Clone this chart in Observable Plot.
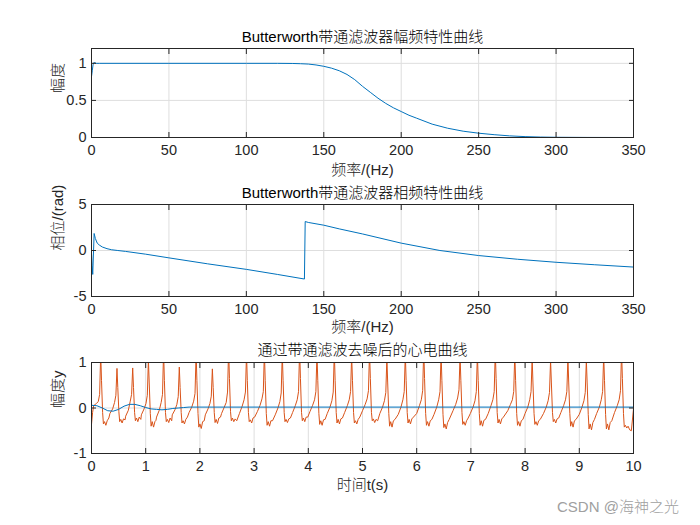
<!DOCTYPE html>
<html><head><meta charset="utf-8">
<script src="https://cdn.jsdelivr.net/npm/d3@7"></script>
<script src="https://cdn.jsdelivr.net/npm/@observablehq/plot@0.6"></script>
<style>
body{margin:0;background:#fff;}
#fig{position:relative;width:700px;height:525px;background:#fff;overflow:hidden;font-family:"Liberation Sans","Noto Sans CJK SC",sans-serif;}
#fig svg{position:absolute;left:0;}
#wm{position:absolute;left:557px;top:495px;font-size:15px;font-weight:300;color:#a0a0a0;font-family:"Liberation Sans","Noto Sans CJK SC",sans-serif;}
</style></head><body><div id="fig"></div>
<script>
// ---- Panel 1: magnitude response ----
const magFreq = [0,0.5,1,1.5,2,3,5,10,50,100,120,130,135,140,145,150,155,160,165,170,175,180,185,190,195,200,205,210,220,230,240,250,260,270,280,290,300,320,350];
const magVal  = [0.82,0.9,0.98,1.01,1.01,1.0,1.0,1.0,1.0,1.0,1.0,0.998,0.995,0.99,0.978,0.96,0.935,0.9,0.85,0.78,0.69,0.61,0.53,0.46,0.4,0.35,0.3,0.26,0.18,0.125,0.085,0.058,0.038,0.022,0.012,0.006,0.003,0.001,0];
// ---- Panel 2: phase response ----
const phaseFreq = [0,0.4,0.8,1.7,2.5,3.7,5,7,10,13,17,22,35,50,75,100,120,137.5,138,140,150,160,175,200,225,250,275,300,325,350];
const phaseVal  = [-0.3,-1.6,-2.6,1.85,1.3,0.8,0.6,0.38,0.2,0.08,0,-0.1,-0.4,-0.8,-1.45,-2.05,-2.6,-3.1,3.15,3.05,2.75,2.35,1.8,0.8,0,-0.55,-0.95,-1.28,-1.55,-1.8];
// ---- Panel 3: ECG (one line per heartbeat) ----
const ecgTime = [
 0,0.02,
 0.04,0.09,0.125,0.15,0.17,0.185,0.205,0.22,0.24,0.265,0.29,0.32,
 0.34,0.39,0.425,0.45,0.47,0.485,0.505,0.52,0.54,0.565,0.59,0.62,
 0.63,0.68,0.715,0.74,0.76,0.775,0.795,0.81,0.83,0.855,0.88,0.91,
 0.92,0.97,1.005,1.03,1.05,1.065,1.085,1.10,1.12,1.145,1.17,1.19,
 1.20,1.25,1.285,1.31,1.33,1.345,1.365,1.38,1.40,1.425,1.45,1.48,
 1.49,1.54,1.575,1.60,1.62,1.635,1.655,1.67,1.69,1.715,1.74,1.77,
 1.80,1.85,1.885,1.91,1.93,1.945,1.965,1.98,2.00,2.025,2.05,2.08,
 2.10,2.15,2.185,2.21,2.23,2.245,2.265,2.28,2.30,2.325,2.35,2.38,
 2.40,2.45,2.485,2.51,2.53,2.545,2.565,2.58,2.60,2.625,2.65,2.68,
 2.73,2.78,2.815,2.84,2.86,2.875,2.895,2.91,2.93,2.955,2.98,3.01,
 3.06,3.11,3.145,3.17,3.19,3.205,3.225,3.24,3.26,3.285,3.31,3.34,
 3.39,3.44,3.475,3.50,3.52,3.535,3.555,3.57,3.59,3.615,3.64,3.67,
 3.71,3.76,3.795,3.82,3.84,3.855,3.875,3.89,3.91,3.935,3.96,3.99,
 4.03,4.08,4.115,4.14,4.16,4.175,4.195,4.21,4.23,4.255,4.28,4.31,
 4.35,4.40,4.435,4.46,4.48,4.495,4.515,4.53,4.55,4.575,4.60,4.63,
 4.67,4.72,4.755,4.78,4.80,4.815,4.835,4.85,4.87,4.895,4.92,4.95,
 5.00,5.05,5.085,5.11,5.13,5.145,5.165,5.18,5.20,5.225,5.25,5.28,
 5.32,5.37,5.405,5.43,5.45,5.465,5.485,5.50,5.52,5.545,5.57,5.60,
 5.66,5.71,5.745,5.77,5.79,5.805,5.825,5.84,5.86,5.885,5.91,5.94,
 6.00,6.05,6.085,6.11,6.13,6.145,6.165,6.18,6.20,6.225,6.25,6.28,
 6.32,6.37,6.405,6.43,6.45,6.465,6.485,6.50,6.52,6.545,6.57,6.60,
 6.67,6.72,6.755,6.78,6.80,6.815,6.835,6.85,6.87,6.895,6.92,6.95,
 6.99,7.04,7.075,7.10,7.12,7.135,7.155,7.17,7.19,7.215,7.24,7.27,
 7.32,7.37,7.405,7.43,7.45,7.465,7.485,7.50,7.52,7.545,7.57,7.60,
 7.68,7.73,7.765,7.79,7.81,7.825,7.845,7.86,7.88,7.905,7.93,7.96,
 8.00,8.05,8.085,8.11,8.13,8.145,8.165,8.18,8.20,8.225,8.25,8.28,
 8.34,8.39,8.425,8.45,8.47,8.485,8.505,8.52,8.54,8.565,8.59,8.62,
 8.66,8.71,8.745,8.77,8.79,8.805,8.825,8.84,8.86,8.885,8.91,8.94,
 9.00,9.05,9.085,9.11,9.13,9.145,9.165,9.18,9.20,9.225,9.25,9.28,
 9.32,9.37,9.405,9.43,9.45,9.465,9.485,9.50,9.52,9.545,9.57,9.60,
 9.65,9.70,9.735,9.76,9.78,9.795,9.815,9.83,9.85,9.875,9.90,9.93,
 9.96,10
];
const ecgAmp = [
 -0.36,-0.1,
 0.05,0.1,0.14,0.3,1.2,0.6,-0.1,-0.35,-0.3,-0.38,-0.28,-0.22,
 -0.12,-0.02,0.12,0.28,0.87,0.45,-0.08,-0.3,-0.25,-0.33,-0.24,-0.26,
 -0.18,-0.05,0.15,0.3,0.88,0.45,-0.1,-0.28,-0.22,-0.3,-0.2,-0.25,
 -0.15,-0.02,0.1,0.28,1.05,0.55,-0.12,-0.4,-0.3,-0.42,-0.3,-0.27,
 -0.2,-0.05,0.12,0.3,1.25,0.6,-0.1,-0.3,-0.25,-0.32,-0.22,-0.28,
 -0.15,-0.04,0.08,0.25,0.9,0.45,-0.1,-0.33,-0.28,-0.35,-0.25,-0.2,
 -0.1,0.02,0.15,0.32,1.2,0.6,-0.12,-0.42,-0.35,-0.45,-0.3,-0.28,
 -0.15,-0.02,0.1,0.26,0.86,0.45,-0.1,-0.32,-0.25,-0.34,-0.22,-0.2,
 -0.12,0.02,0.12,0.35,1.3,0.65,-0.08,-0.28,-0.22,-0.3,-0.24,-0.28,
 -0.12,0.04,0.18,0.35,1.2,0.6,-0.1,-0.3,-0.26,-0.33,-0.22,-0.2,
 -0.08,0.06,0.2,0.36,1.25,0.6,-0.12,-0.38,-0.3,-0.4,-0.28,-0.28,
 -0.15,0.0,0.14,0.33,1.2,0.6,-0.1,-0.3,-0.25,-0.32,-0.24,-0.22,
 -0.1,0.05,0.18,0.36,1.3,0.65,-0.1,-0.28,-0.22,-0.3,-0.2,-0.2,
 -0.08,0.06,0.18,0.36,1.2,0.6,-0.12,-0.36,-0.28,-0.38,-0.26,-0.25,
 -0.12,0.02,0.16,0.35,1.25,0.6,-0.1,-0.33,-0.25,-0.35,-0.24,-0.22,
 -0.1,0.05,0.18,0.36,1.15,0.6,-0.1,-0.33,-0.28,-0.35,-0.25,-0.2,
 -0.06,0.08,0.2,0.38,1.25,0.65,-0.1,-0.28,-0.24,-0.32,-0.25,-0.28,
 -0.12,0.02,0.16,0.34,1.1,0.55,-0.12,-0.4,-0.3,-0.42,-0.28,-0.25,
 -0.14,0.02,0.18,0.36,1.2,0.6,-0.1,-0.33,-0.25,-0.35,-0.24,-0.2,
 -0.12,0.05,0.18,0.38,1.3,0.65,-0.12,-0.38,-0.3,-0.4,-0.28,-0.25,
 -0.14,0.02,0.18,0.36,1.2,0.6,-0.14,-0.43,-0.35,-0.46,-0.32,-0.25,
 -0.06,0.08,0.22,0.4,1.15,0.6,-0.1,-0.36,-0.3,-0.38,-0.28,-0.22,
 -0.12,0.02,0.16,0.36,1.2,0.6,-0.12,-0.38,-0.28,-0.4,-0.27,-0.25,
 -0.12,0.05,0.18,0.36,1.25,0.65,-0.1,-0.33,-0.25,-0.35,-0.24,-0.2,
 -0.06,0.08,0.18,0.36,1.2,0.6,-0.12,-0.38,-0.3,-0.4,-0.28,-0.25,
 -0.12,0.02,0.18,0.36,1.1,0.55,-0.12,-0.36,-0.3,-0.38,-0.28,-0.25,
 -0.12,0.02,0.16,0.34,1.05,0.55,-0.1,-0.3,-0.25,-0.33,-0.24,-0.22,
 -0.1,0.05,0.18,0.36,1.1,0.55,-0.12,-0.4,-0.3,-0.42,-0.28,-0.25,
 -0.14,0.02,0.16,0.34,1.05,0.55,-0.14,-0.46,-0.35,-0.48,-0.32,-0.25,
 -0.12,0.02,0.18,0.36,1.15,0.6,-0.14,-0.46,-0.35,-0.48,-0.32,-0.28,
 -0.1,0.05,0.18,0.38,1.25,0.65,-0.12,-0.42,-0.38,-0.44,-0.4,-0.48,
 -0.5,-0.02
];
const baseTime = [0,0.1,0.2,0.3,0.4,0.5,0.6,0.7,0.8,0.9,1.0,1.1,1.2,1.3,1.4,1.5,1.6,1.7,1.8,2.0,10];
const baseAmp  = [0.06,0.05,0.0,-0.06,-0.07,-0.03,0.04,0.08,0.08,0.05,0.01,-0.02,-0.03,-0.04,-0.03,-0.01,0.0,0.01,0.02,0.02,0.02];

// ---- tick labels / texts ----
const freqTicks = [0,50,100,150,200,250,300,350];
const timeTicks = [0,1,2,3,4,5,6,7,8,9,10];
const magTicks = [0,0.5,1];
const phaseTicks = [-5,0,5];
const ecgTicks = [-1,0,1];
const titles = ["Butterworth带通滤波器幅频特性曲线","Butterworth带通滤波器相频特性曲线","通过带通滤波去噪后的心电曲线"];
const xLabels = ["频率/(Hz)","频率/(Hz)","时间t(s)"];
const yLabels = ["幅度","相位/(rad)","幅度y"];

const FONT = '"Liberation Sans","Noto Sans CJK SC",sans-serif';
const BLUE = "#0072BD", ORANGE = "#D95319";

function panel({top, height, mt, mb, xDomain, xTicks, yDomain, yTicks, title, xLabel, yLabel, titleDy, xLabDy, lines}) {
  const fmt = d => String(d);
  const tickStroke = "#262626";
  const p = Plot.plot({
    width: 700, height, marginLeft: 91, marginRight: 67, marginTop: mt, marginBottom: mb,
    x: {domain: xDomain}, y: {domain: yDomain},
    style: {fontFamily: FONT, fontSize: "14.5px", color: "#262626", background: "transparent", overflow: "visible"},
    marks: [
      Plot.gridX(xTicks, {stroke: "#dedede", strokeOpacity: 1}),
      Plot.gridY(yTicks, {stroke: "#dedede", strokeOpacity: 1}),
      ...lines,
      Plot.frame({stroke: "#262626", strokeWidth: 1}),
      Plot.axisX(xTicks, {anchor: "bottom", tickSize: 0, tickPadding: 7, tickFormat: fmt, label: null, fontSize: 14.5}),
      Plot.axisY(yTicks, {anchor: "left", tickSize: 0, tickPadding: 5, tickFormat: fmt, label: null, fontSize: 14.5}),
      Plot.axisX(xTicks, {anchor: "bottom", tickSize: -5, fill: "none", stroke: tickStroke, label: null}),
      Plot.axisX(xTicks, {anchor: "top", tickSize: -5, fill: "none", stroke: tickStroke, label: null}),
      Plot.axisY(yTicks, {anchor: "left", tickSize: -5, fill: "none", stroke: tickStroke, label: null}),
      Plot.axisY(yTicks, {anchor: "right", tickSize: -5, fill: "none", stroke: tickStroke, label: null}),
      Plot.text([title], {text: d => d, frameAnchor: "top", lineAnchor: "middle", dy: titleDy, fontSize: 15, fontWeight: 300, fill: "#000"}),
      Plot.text([xLabel], {text: d => d, frameAnchor: "bottom", lineAnchor: "middle", dy: xLabDy, fontSize: 15, fontWeight: 300, fill: "#262626"}),
      Plot.text([yLabel], {text: d => d, frameAnchor: "left", lineAnchor: "middle", dx: -33, rotate: -90, fontSize: 15, fontWeight: 300, fill: "#262626"})
    ]
  });
  p.style.top = top + "px";
  return p;
}

const fig = document.getElementById("fig");
fig.appendChild(panel({
  top: 0, height: 180, mt: 48, mb: 43, xDomain: [0,350], xTicks: freqTicks, yDomain: [0,1.2], yTicks: magTicks,
  title: titles[0], xLabel: xLabels[0], yLabel: yLabels[0], titleDy: -11, xLabDy: 33,
  lines: [Plot.line(magFreq, {x: magFreq, y: magVal, stroke: BLUE, strokeWidth: 1, clip: true})]
}));
fig.appendChild(panel({
  top: 180, height: 160, mt: 24, mb: 44, xDomain: [0,350], xTicks: freqTicks, yDomain: [-5,5], yTicks: phaseTicks,
  title: titles[1], xLabel: xLabels[1], yLabel: yLabels[1], titleDy: -11, xLabDy: 31,
  lines: [Plot.line(phaseFreq, {x: phaseFreq, y: phaseVal, stroke: BLUE, strokeWidth: 1, clip: true})]
}));
fig.appendChild(panel({
  top: 340, height: 160, mt: 22, mb: 47, xDomain: [0,10], xTicks: timeTicks, yDomain: [-1,1], yTicks: ecgTicks,
  title: titles[2], xLabel: xLabels[2], yLabel: yLabels[2], titleDy: -12, xLabDy: 32,
  lines: [
    Plot.line(ecgTime, {x: ecgTime, y: ecgAmp, stroke: ORANGE, strokeWidth: 1, clip: true}),
    Plot.line(baseTime, {x: baseTime, y: baseAmp, stroke: BLUE, strokeWidth: 1, clip: true})
  ]
}));
const wm = document.createElement("div");
wm.id = "wm";
wm.textContent = "CSDN @海神之光";
fig.appendChild(wm);
</script></body></html>
